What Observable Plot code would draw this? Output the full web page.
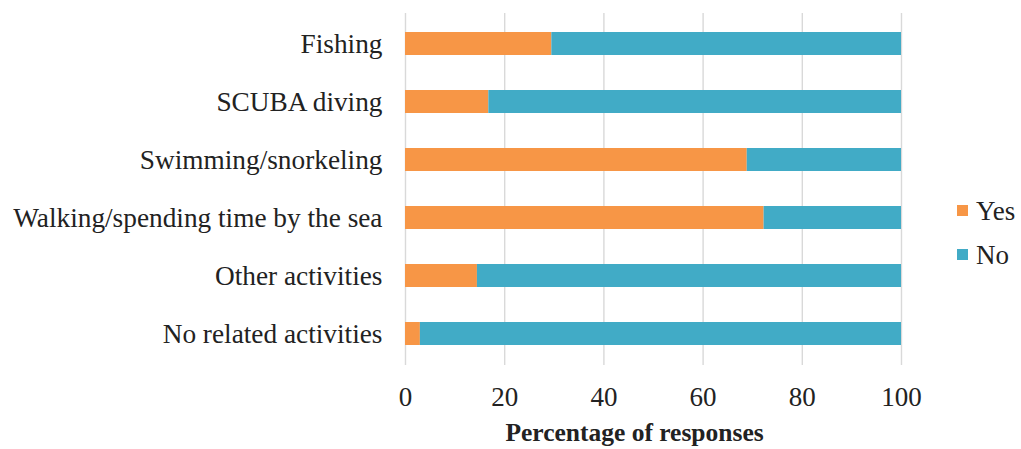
<!DOCTYPE html>
<html>
<head>
<meta charset="utf-8">
<script src="https://cdn.jsdelivr.net/npm/d3@7"></script>
<script src="https://cdn.jsdelivr.net/npm/@observablehq/plot@0.6"></script>
<style>
  html, body { margin: 0; padding: 0; background: #fff; }
  #wrap { position: relative; width: 1021px; height: 449px; font-family: "Liberation Serif", "Times New Roman", serif; }
  .lg-sw { position: absolute; width: 11px; height: 11px; }
  .lg-tx { position: absolute; font-size: 27px; line-height: 27px; color: #222; }
</style>
</head>
<body>
<div id="wrap"><div id="chart"></div></div>
<script>
const categories = ["Fishing", "SCUBA diving", "Swimming/snorkeling", "Walking/spending time by the sea", "Other activities", "No related activities"];
const yesValues = [29.5, 16.8, 68.9, 72.3, 14.5, 3.0];
const noValues = yesValues.map(v => 100 - v);
const seriesNames = ["Yes", "No"];
const seriesColors = ["#f79646", "#41abc6"];
const xTicks = [0, 20, 40, 60, 80, 100];
const xTitle = "Percentage of responses";

const data = [];
categories.forEach((c, i) => {
  data.push({activity: c, response: "Yes", value: yesValues[i]});
  data.push({activity: c, response: "No", value: noValues[i]});
});

const chart = Plot.plot({
  width: 1021,
  height: 449,
  marginLeft: 405,
  marginRight: 120,
  marginTop: 13,
  marginBottom: 84,
  style: {fontFamily: "'Liberation Serif', 'Times New Roman', serif", fontSize: "27px", color: "#222", background: "#fff"},
  x: {domain: [0, 100], ticks: xTicks, label: null},
  y: {domain: categories, paddingInner: 0.6, paddingOuter: 0.3, label: null},
  color: {domain: seriesNames, range: seriesColors},
  marks: [
    Plot.gridX(xTicks, {stroke: "#d9d9d9", strokeOpacity: 1, strokeWidth: 1.4}),
    Plot.barX(data, Plot.stackX({y: "activity", x: "value", fill: "response", order: seriesNames})),
    Plot.axisX({ticks: xTicks, tickSize: 0, tickPadding: 21, fontSize: 27, label: null}),
    Plot.axisY({tickSize: 0, tickPadding: 23, fontSize: 27.3, label: null}),
    Plot.text([xTitle], {frameAnchor: "bottom", dx: -19, dy: 75, fontSize: 25.5, fontWeight: "bold", fill: "#222"})
  ]
});
document.getElementById("chart").appendChild(chart);

const wrap = document.getElementById("wrap");
const legendTops = [198, 242];
seriesNames.forEach((n, i) => {
  const sw = document.createElement("div");
  sw.className = "lg-sw";
  sw.style.background = seriesColors[i];
  sw.style.left = "957px";
  sw.style.top = (legendTops[i] + 7) + "px";
  wrap.appendChild(sw);
  const tx = document.createElement("div");
  tx.className = "lg-tx";
  tx.textContent = n;
  tx.style.left = "976px";
  tx.style.top = legendTops[i] + "px";
  wrap.appendChild(tx);
});
</script>
</body>
</html>
